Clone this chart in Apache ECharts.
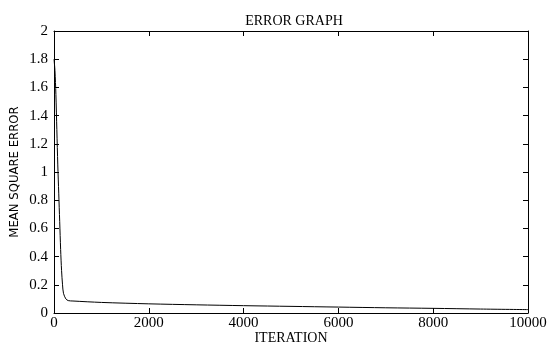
<!DOCTYPE html>
<html>
<head>
<meta charset="utf-8">
<script src="https://cdn.jsdelivr.net/npm/echarts@6/dist/echarts.min.js"></script>
<style>
  html, body { margin: 0; padding: 0; background: #fff; }
  #chart { width: 549px; height: 345px; }
</style>
</head>
<body>
<div id="chart"></div>
<script>
  // values
  const iterations = [0, 20, 40, 60, 80, 100, 120, 140, 160, 180, 200, 250, 300, 400, 1000, 2000, 3000, 4000, 5000, 6000, 7000, 8000, 9000, 10000]
  const mse = [1.8, 1.72, 1.55, 1.3, 1.05, 0.85, 0.65, 0.45, 0.3, 0.2, 0.14, 0.1, 0.088, 0.085, 0.075, 0.065, 0.058, 0.052, 0.047, 0.042, 0.037, 0.033, 0.028, 0.024]
  const xTicks = [0, 2000, 4000, 6000, 8000, 10000]
  const yTicks = [0, 0.2, 0.4, 0.6, 0.8, 1, 1.2, 1.4, 1.6, 1.8, 2]

  const chart = echarts.init(document.getElementById('chart'))
  const tickFont = { fontFamily: 'Liberation Serif', fontSize: 15, color: '#000' }
  const serif = 'Liberation Serif'
  const sideFont = 'DejaVu Sans Condensed, Liberation Sans Narrow, Liberation Sans'

  const xBase = {
    type: 'value', min: 0, max: 10000, interval: 2000,
    axisLine: { show: true, onZero: false, lineStyle: { color: '#000', width: 1 } },
    axisTick: { show: true, inside: true, length: 5, lineStyle: { color: '#000' } },
    splitLine: { show: false }
  }
  const yBase = {
    type: 'value', min: 0, max: 2, interval: 0.2,
    axisLine: { show: true, onZero: false, lineStyle: { color: '#000', width: 1 } },
    axisTick: { show: true, inside: true, length: 5, lineStyle: { color: '#000' } },
    splitLine: { show: false }
  }

  chart.setOption({
    animation: false,
    title: {
      text: 'ERROR GRAPH', left: 289, top: 9, textAlign: 'center',
      textStyle: { fontFamily: serif, fontSize: 14, fontWeight: 'normal', color: '#000' }
    },
    grid: { left: 54, right: 21, top: 31, bottom: 32, containLabel: false, outerBoundsMode: 'none' },
    xAxis: [
      Object.assign({}, xBase, {
        position: 'bottom',
        name: 'ITERATION', nameLocation: 'middle', nameGap: 18, nameMoveOverlap: false,
        nameTextStyle: { fontFamily: serif, fontSize: 14, color: '#000' },
        axisLabel: Object.assign({ margin: 3, formatter: v => xTicks.includes(v) ? String(v) : '' }, tickFont)
      }),
      Object.assign({}, xBase, { position: 'top', axisLabel: { show: false } })
    ],
    yAxis: [
      Object.assign({}, yBase, {
        position: 'left',
        name: 'MEAN SQUARE ERROR', nameLocation: 'middle', nameGap: 33, nameMoveOverlap: false,
        nameTextStyle: { fontFamily: sideFont, fontSize: 13, color: '#000' },
        axisLabel: Object.assign({ margin: 6, formatter: v => String(+v.toFixed(1)) }, tickFont)
      }),
      Object.assign({}, yBase, { position: 'right', axisLabel: { show: false } })
    ],
    series: [{
      type: 'line',
      data: iterations.map((x, i) => [x, mse[i]]),
      showSymbol: false,
      smooth: 0.3,
      lineStyle: { color: '#000', width: 1 }
    }]
  })
</script>
</body>
</html>
